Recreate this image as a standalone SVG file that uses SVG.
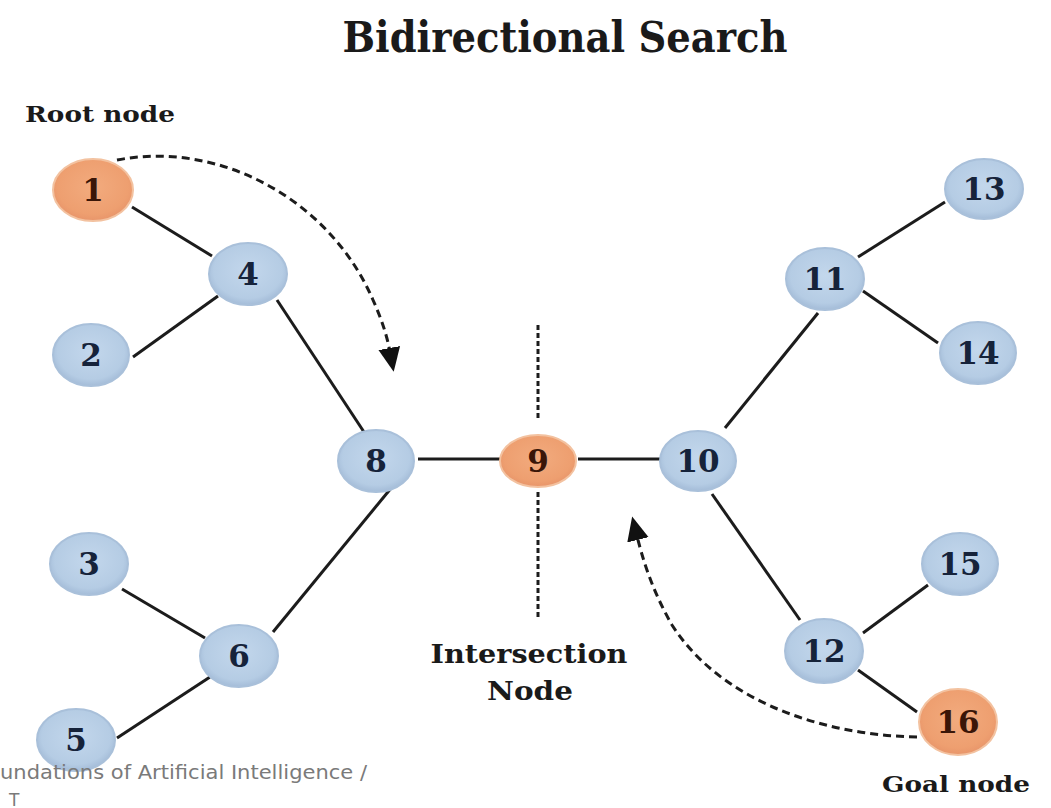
<svg xmlns="http://www.w3.org/2000/svg" width="1051" height="808" viewBox="0 0 1051 808">
<style>
.edge{stroke:#1c1c1c;stroke-width:3;fill:none}
.dash{stroke:#1c1c1c;stroke-width:3;fill:none;stroke-dasharray:8 5}
.vdash{stroke:#1c1c1c;stroke-width:3;fill:none;stroke-dasharray:5 3}
.blue{fill:url(#gb);stroke:#a9c0da;stroke-width:2}
.orange{fill:url(#go);stroke:#f3c2a0;stroke-width:2}
.num{font-family:"DejaVu Serif","Liberation Serif",serif;font-weight:bold;font-size:31px;text-anchor:middle}
.bn{fill:#16233a}
.on{fill:#3a1608}
.lbl{font-family:"DejaVu Serif","Liberation Serif",serif;font-weight:bold;fill:#1a1a1a}
</style>
<defs>
<radialGradient id="gb" cx="50%" cy="45%" r="55%">
<stop offset="0" stop-color="#c3d7ec"/>
<stop offset="0.8" stop-color="#b5cce4"/>
<stop offset="1" stop-color="#a4bcd8"/>
</radialGradient>
<radialGradient id="go" cx="50%" cy="45%" r="55%">
<stop offset="0" stop-color="#f2ab7e"/>
<stop offset="0.8" stop-color="#ee9f70"/>
<stop offset="1" stop-color="#e8956a"/>
</radialGradient>
<marker id="ah" markerWidth="24" markerHeight="24" refX="4" refY="12" orient="auto" markerUnits="userSpaceOnUse" viewBox="0 0 24 24">
<path d="M0,1 L24,12 L0,23 z" fill="#111"/>
</marker>
</defs>
<rect width="1051" height="808" fill="#ffffff"/>

<text class="lbl" x="565" y="52" font-size="42" text-anchor="middle" textLength="445" lengthAdjust="spacingAndGlyphs">Bidirectional Search</text>
<text class="lbl" x="25" y="122" font-size="23" textLength="150" lengthAdjust="spacingAndGlyphs">Root node</text>
<text class="lbl" x="529" y="663" font-size="26" text-anchor="middle" textLength="197" lengthAdjust="spacingAndGlyphs">Intersection</text>
<text class="lbl" x="530" y="700" font-size="26" text-anchor="middle" textLength="86" lengthAdjust="spacingAndGlyphs">Node</text>
<text class="lbl" x="882" y="792" font-size="23" textLength="148" lengthAdjust="spacingAndGlyphs">Goal node</text>

<g id="connectors">
<line class="edge" x1="132" y1="207" x2="212" y2="256"/>
<line class="edge" x1="218" y1="296" x2="133" y2="357"/>
<line class="edge" x1="277" y1="300" x2="364" y2="432"/>
<line class="edge" x1="392" y1="487" x2="273" y2="632"/>
<line class="edge" x1="122" y1="589" x2="205" y2="638"/>
<line class="edge" x1="210" y1="677" x2="117" y2="738"/>
<line class="edge" x1="418" y1="459" x2="500" y2="459"/>
<line class="edge" x1="578" y1="459" x2="660" y2="459"/>
<line class="edge" x1="725" y1="428" x2="818" y2="313"/>
<line class="edge" x1="858" y1="257" x2="945" y2="202"/>
<line class="edge" x1="863" y1="291" x2="938" y2="343"/>
<line class="edge" x1="712" y1="494" x2="800" y2="620"/>
<line class="edge" x1="863" y1="633" x2="928" y2="585"/>
<line class="edge" x1="858" y1="670" x2="917" y2="712"/>
<line class="vdash" x1="538" y1="325" x2="538" y2="420"/>
<line class="vdash" x1="538" y1="492" x2="538" y2="617"/>
<path class="dash" d="M117,160 C220,140 330,200 373,300 C382,320 387,336 390,352" marker-end="url(#ah)"/>
<path class="dash" d="M917,737 C820,735 720,700 672,625 C652,590 643,560 637,536" marker-end="url(#ah)"/>
</g>

<g id="n1"><ellipse class="orange" cx="93" cy="190" rx="40" ry="31"/><text class="num on" x="93" y="201">1</text></g>
<g id="n4"><ellipse class="blue" cx="248" cy="274" rx="39" ry="31"/><text class="num bn" x="248" y="285">4</text></g>
<g id="n2"><ellipse class="blue" cx="91" cy="355" rx="38" ry="31"/><text class="num bn" x="91" y="366">2</text></g>
<g id="n8"><ellipse class="blue" cx="376" cy="461" rx="38" ry="31"/><text class="num bn" x="376" y="472">8</text></g>
<g id="n3"><ellipse class="blue" cx="89" cy="564" rx="39" ry="31"/><text class="num bn" x="89" y="575">3</text></g>
<g id="n6"><ellipse class="blue" cx="239" cy="656" rx="39" ry="31"/><text class="num bn" x="239" y="667">6</text></g>
<g id="n5"><ellipse class="blue" cx="76" cy="740" rx="39" ry="31"/><text class="num bn" x="76" y="751">5</text></g>
<g id="n9"><ellipse class="orange" cx="538" cy="461" rx="38" ry="26"/><text class="num on" x="538" y="472">9</text></g>
<g id="n10"><ellipse class="blue" cx="698" cy="461" rx="38" ry="30"/><text class="num bn" x="698" y="472">10</text></g>
<g id="n11"><ellipse class="blue" cx="825" cy="279" rx="39" ry="31"/><text class="num bn" x="825" y="290">11</text></g>
<g id="n13"><ellipse class="blue" cx="984" cy="189" rx="39" ry="30"/><text class="num bn" x="984" y="200">13</text></g>
<g id="n14"><ellipse class="blue" cx="978" cy="353" rx="38" ry="31"/><text class="num bn" x="978" y="364">14</text></g>
<g id="n15"><ellipse class="blue" cx="960" cy="564" rx="38" ry="31"/><text class="num bn" x="960" y="575">15</text></g>
<g id="n12"><ellipse class="blue" cx="824" cy="651" rx="39" ry="32"/><text class="num bn" x="824" y="662">12</text></g>
<g id="n16"><ellipse class="orange" cx="958" cy="722" rx="39" ry="33"/><text class="num on" x="958" y="733">16</text></g>

<text x="0" y="779" font-family="'DejaVu Sans','Open Sans',sans-serif" font-size="19" fill="#7a7a7a" textLength="367" lengthAdjust="spacingAndGlyphs">undations of Artificial Intelligence /</text>
<text x="9" y="806" font-family="'DejaVu Sans','Open Sans',sans-serif" font-size="17" fill="#7a7a7a">T</text>
</svg>
